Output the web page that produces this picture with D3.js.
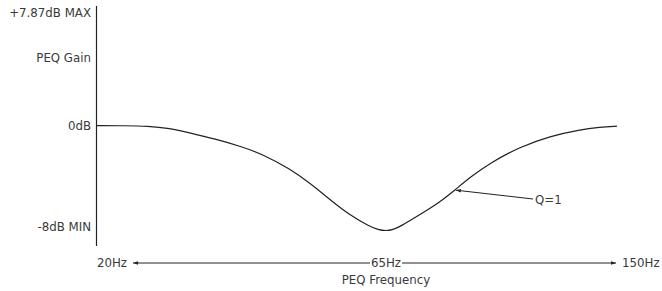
<!DOCTYPE html>
<html><head><meta charset="utf-8">
<script src="https://cdn.jsdelivr.net/npm/d3@7"></script>
<style>
body{margin:0;background:#fff;}
text{font-family:"DejaVu Sans",sans-serif;fill:#3a3a3a;}
</style></head><body>
<svg id="c" width="662" height="291"></svg>
<script>
// Frequencies (Hz) along the curve and gain (dB)
const freqs = [20, 22.4, 24.6, 26.9, 29.2, 32.4, 35.8, 39.4, 43.9, 47.7, 51.7, 56.1, 60.9, 62.9, 65, 66.7, 68.4, 73.5, 79.0, 83.4, 88.1, 94.7, 105.6, 117.7, 131.2, 141, 150];
const gains = [0, 0, -0.03, -0.2, -0.55, -1.02, -1.55, -2.2, -3.3, -4.4, -5.65, -6.85, -7.72, -7.95, -8.05, -7.95, -7.72, -6.8, -5.85, -4.93, -3.95, -2.85, -1.62, -0.8, -0.3, -0.12, -0.03];
const xTickValues = [20, 65, 150];
const xTickLabels = ["20Hz", "65Hz", "150Hz"];
const yLabelValues = [8.6, 5.2, 0, -7.77];
const yLabelTexts = ["+7.87dB MAX", "PEQ Gain", "0dB", "-8dB MIN"];
const xTitle = "PEQ Frequency";
const annotation = {freq: 83.4, gain: -4.93, text: "Q=1"};

const svg = d3.select("#c");
const x = d3.scaleLog().domain([20, 65, 150]).range([97, 386, 617]);
const y = d3.scaleLinear().domain([-8, 0]).range([230.3, 125.7]);
const ink = "#222";
const fs = 11.8;

const defs = svg.append("defs");
defs.append("marker").attr("id","arr").attr("viewBox","0 0 10 10").attr("refX",10).attr("refY",5)
  .attr("markerWidth",5).attr("markerHeight",5).attr("orient","auto-start-reverse")
  .append("path").attr("d","M0,1.5L10,5L0,8.5z").attr("fill",ink);

// y axis line
svg.append("line").attr("x1",96.5).attr("x2",96.5).attr("y1",6).attr("y2",246)
  .attr("stroke",ink).attr("stroke-width",1.2);

// y labels
svg.selectAll("text.yl").data(yLabelValues).join("text").attr("class","yl")
  .attr("x",91).attr("y",d=>y(d)).attr("dy","0.35em").attr("text-anchor","end")
  .attr("font-size",fs).text((d,i)=>yLabelTexts[i]);

// curve
const data = freqs.map((f,i)=>({f, g:gains[i]}));
svg.append("path").datum(data)
  .attr("d", d3.line().x(d=>x(d.f)).y(d=>y(d.g)).curve(d3.curveBasis))
  .attr("fill","none").attr("stroke",ink).attr("stroke-width",1.2);

// x axis labels & arrow line
const xAxisY = 263;
const lbl = svg.selectAll("text.xl").data(xTickValues).join("text").attr("class","xl")
  .attr("y",xAxisY).attr("dy","0.35em").attr("font-size",fs)
  .attr("x",(d,i)=> i===0 ? 127 : i===2 ? 622 : x(d))
  .attr("text-anchor",(d,i)=> i===0 ? "end" : i===2 ? "start" : "middle")
  .text((d,i)=>xTickLabels[i]);
const midBox = lbl.nodes()[1].getBBox();
svg.append("line").attr("x1",midBox.x-1).attr("x2",133).attr("y1",xAxisY).attr("y2",xAxisY)
  .attr("stroke",ink).attr("stroke-width",1).attr("marker-end","url(#arr)");
svg.append("line").attr("x1",midBox.x+midBox.width+1).attr("x2",616).attr("y1",xAxisY).attr("y2",xAxisY)
  .attr("stroke",ink).attr("stroke-width",1).attr("marker-end","url(#arr)");

svg.append("text").attr("x",x(65)).attr("y",280).attr("dy","0.35em").attr("text-anchor","middle")
  .attr("font-size",fs).text(xTitle);

// annotation
const ax = x(annotation.freq)+1, ay = y(annotation.gain);
svg.append("line").attr("x1",533).attr("y1",199).attr("x2",ax).attr("y2",ay)
  .attr("stroke",ink).attr("stroke-width",1).attr("marker-end","url(#arr)");
svg.append("text").attr("x",535).attr("y",199.5).attr("dy","0.35em").attr("font-size",fs).text(annotation.text);
</script></body></html>
